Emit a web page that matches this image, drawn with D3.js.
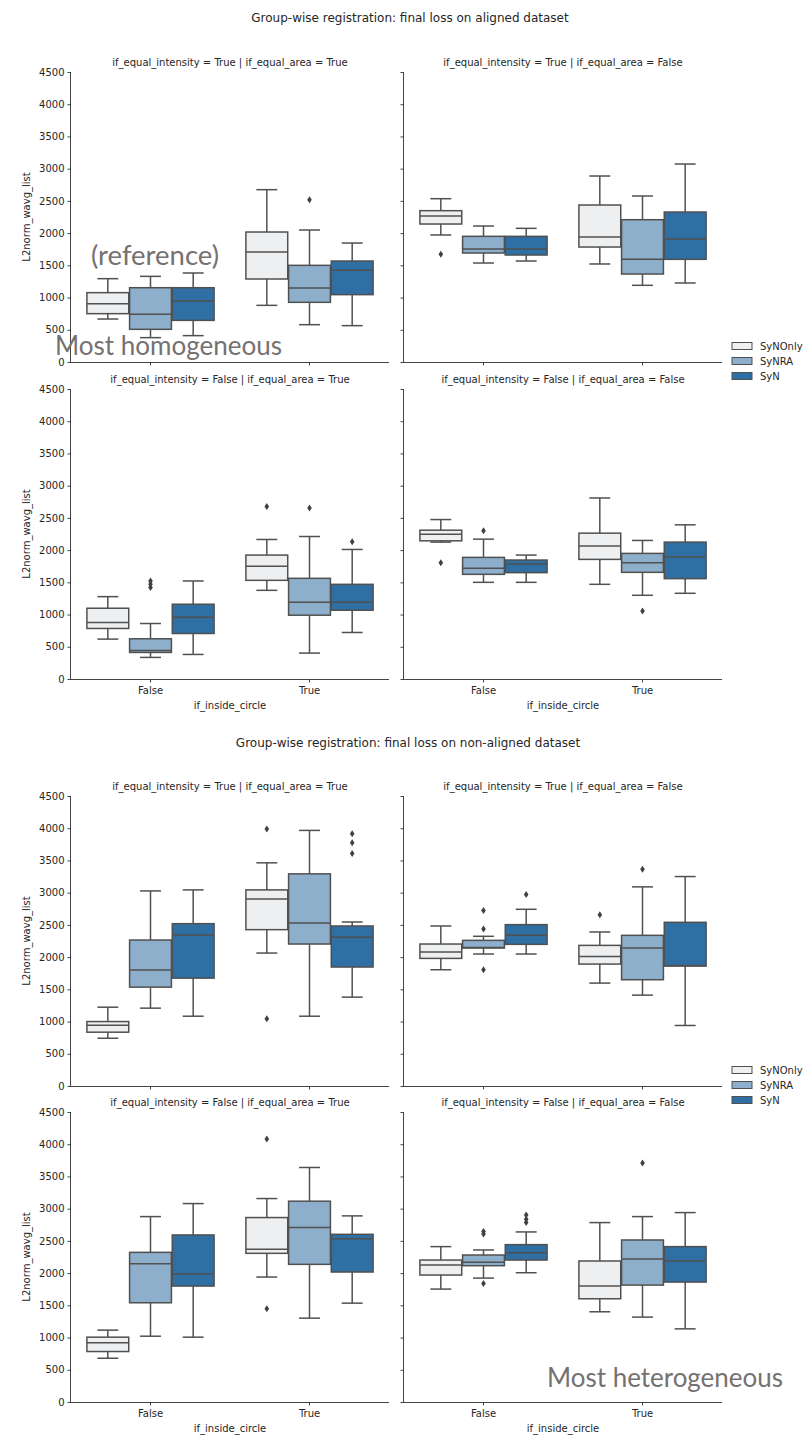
<!DOCTYPE html>
<html>
<head>
<title>Group-wise registration boxplots</title>
<script src="https://d3js.org/d3.v7.min.js" charset="utf-8"></script>
<style>
body { margin: 0; background: white; }
svg text { font-family: "DejaVu Sans", sans-serif; fill: #262626; }
.note { font-family: Lato, "Open Sans", sans-serif; fill: #767171; }
</style>
</head>
<body>
<script>
// categories
var hues = ["SyNOnly", "SyNRA", "SyN"];
var circles = ["False", "True"];
var yTicks = [0, 500, 1000, 1500, 2000, 2500, 3000, 3500, 4000, 4500];
var figTitles = ["Group-wise registration: final loss on aligned dataset",
                 "Group-wise registration: final loss on non-aligned dataset"];
var facetTitles = ["if_equal_intensity = True | if_equal_area = True",
                   "if_equal_intensity = True | if_equal_area = False",
                   "if_equal_intensity = False | if_equal_area = True",
                   "if_equal_intensity = False | if_equal_area = False"];

// box stats [whisker low, q1, median, q3, whisker high]
// order: False/SyNOnly, False/SyNRA, False/SyN, True/SyNOnly, True/SyNRA, True/SyN
var alignedTT = [[667,750,905,1076,1293],[378,507,740,1153,1329],[409,646,946,1153,1381],
                 [879,1288,1707,2017,2674],[579,926,1148,1500,2048],[564,1045,1422,1567,1846]];
var alignedTTout = [[],[],[],[],[2519],[]];
var alignedTF = [[1971,2141,2265,2348,2534],[1536,1691,1753,1950,2110],[1567,1660,1753,1950,2074],
                 [1521,1784,1940,2436,2886],[1190,1365,1593,2208,2576],[1226,1593,1908,2327,3072]];
var alignedTFout = [[1671],[],[],[],[],[]];
var alignedFT = [[619,784,876,1098,1278],[335,412,443,624,861],[381,706,959,1160,1521],
                 [1376,1531,1748,1923,2165],[402,990,1191,1562,2211],[722,1067,1191,1469,2010]];
var alignedFTout = [[],[1420,1470,1520],[],[2675],[2655],[2129]];
var alignedFF = [[2124,2144,2248,2309,2474],[1500,1624,1717,1887,2170],[1500,1650,1784,1846,1923],
                 [1469,1856,2062,2263,2809],[1299,1655,1804,1949,2150],[1330,1557,1892,2124,2392]];
var alignedFFout = [[1804],[2299],[],[],[1057],[]];

var nonalignedTT = [[741,835,943,1000,1223],[1208,1534,1799,2265,3027],[1083,1674,2343,2519,3043],
                    [2063,2426,2903,3043,3463],[1083,2203,2530,3292,3966],[1379,1846,2307,2483,2545]];
var nonalignedTTout = [[],[],[],[3987,1042],[],[3914,3774,3608]];
var nonalignedTF = [[1804,1980,2079,2203,2483],[2048,2141,2151,2260,2323],[2048,2198,2338,2504,2742],
                    [1597,1892,2011,2182,2390],[1410,1649,2141,2338,3090],[939,1861,1871,2540,3250]];
var nonalignedTFout = [[],[2722,2436,1804],[2970],[2659],[3364],[]];
var nonalignedFT = [[679,783,918,1006,1115],[1021,1540,2146,2322,2877],[1006,1799,1986,2592,3079],
                    [1939,2307,2369,2862,3157],[1301,2136,2706,3116,3639],[1534,2017,2535,2602,2888]];
var nonalignedFTout = [[],[],[],[4080,1446],[],[]];
var nonalignedFF = [[1752,1970,2125,2203,2411],[1923,2115,2167,2281,2359],[2006,2203,2317,2442,2639],
                    [1400,1602,1799,2188,2784],[1317,1814,2219,2514,2877],[1135,1861,2188,2411,2939]];
var nonalignedFFout = [[],[2644,2608,1840],[2903,2836,2784],[],[3707],[]];

var colors = ["#eeeff1", "#8eafcc", "#2f6fa3"];
var lineColor = "#505050";

var width = 807, height = 1440;
var svg = d3.select("body").append("svg")
  .attr("width", width).attr("height", height);

var panelX = [71, 404];
var panelW = 318;
var plotH = 290;
var rowTop = [72, 389, 796, 1112];

var panels = [
  {row: 0, col: 0, title: facetTitles[0], stats: alignedTT, out: alignedTTout},
  {row: 0, col: 1, title: facetTitles[1], stats: alignedTF, out: alignedTFout},
  {row: 1, col: 0, title: facetTitles[2], stats: alignedFT, out: alignedFTout},
  {row: 1, col: 1, title: facetTitles[3], stats: alignedFF, out: alignedFFout},
  {row: 2, col: 0, title: facetTitles[0], stats: nonalignedTT, out: nonalignedTTout},
  {row: 2, col: 1, title: facetTitles[1], stats: nonalignedTF, out: nonalignedTFout},
  {row: 3, col: 0, title: facetTitles[2], stats: nonalignedFT, out: nonalignedFTout},
  {row: 3, col: 1, title: facetTitles[3], stats: nonalignedFF, out: nonalignedFFout}
];

panels.forEach(function(p) {
  var x0 = panelX[p.col], y0 = rowTop[p.row];
  var g = svg.append("g").attr("transform", "translate(" + x0 + "," + y0 + ")");

  var y = d3.scaleLinear().domain([0, 4500]).range([plotH, 0]);
  var x = d3.scaleBand().domain(circles).range([0, panelW]).padding(0);
  var hx = d3.scaleBand().domain(hues)
    .range([x.bandwidth() * 0.1, x.bandwidth() * 0.9]).paddingInner(0.02);

  // axes
  var yAxis = d3.axisLeft(y).tickValues(yTicks).tickSize(3.5).tickPadding(3)
    .tickFormat(p.col == 0 ? d3.format("d") : "");
  var ga = g.append("g").call(yAxis);
  var xAxis = d3.axisBottom(x).tickSize(3.5).tickPadding(4)
    .tickFormat(p.row % 2 == 1 ? null : "");
  var gx = g.append("g").attr("transform", "translate(0," + plotH + ")").call(xAxis);
  [ga, gx].forEach(function(a) {
    a.select(".domain").attr("stroke", "#444").attr("stroke-width", 1);
    a.selectAll(".tick line").attr("stroke", "#444");
    a.selectAll("text").attr("font-size", 10).attr("fill", "#262626")
      .attr("font-family", "DejaVu Sans, sans-serif");
  });
  // only the left spine + bottom spine
  ga.select(".domain").attr("d", "M-0.5,0V" + plotH);
  gx.select(".domain").attr("d", "M0,0.5H" + panelW);

  g.append("text").attr("x", panelW / 2).attr("y", -6)
    .attr("text-anchor", "middle").attr("font-size", 10).text(p.title);

  if (p.col == 0) {
    g.append("text").attr("transform", "translate(-41," + plotH / 2 + ") rotate(-90)")
      .attr("text-anchor", "middle").attr("font-size", 10).text("L2norm_wavg_list");
  }
  if (p.row % 2 == 1) {
    g.append("text").attr("x", panelW / 2).attr("y", plotH + 30)
      .attr("text-anchor", "middle").attr("font-size", 10).text("if_inside_circle");
  }

  // boxes
  p.stats.forEach(function(s, i) {
    var cat = circles[Math.floor(i / 3)], hue = hues[i % 3];
    var bx = x(cat) + hx(hue), bw = hx.bandwidth(), cx = bx + bw / 2;
    var bg = g.append("g").attr("stroke", lineColor).attr("stroke-width", 1.5);
    bg.append("line").attr("x1", cx).attr("x2", cx).attr("y1", y(s[0])).attr("y2", y(s[1]));
    bg.append("line").attr("x1", cx).attr("x2", cx).attr("y1", y(s[3])).attr("y2", y(s[4]));
    bg.append("line").attr("x1", cx - bw / 4).attr("x2", cx + bw / 4).attr("y1", y(s[0])).attr("y2", y(s[0]));
    bg.append("line").attr("x1", cx - bw / 4).attr("x2", cx + bw / 4).attr("y1", y(s[4])).attr("y2", y(s[4]));
    bg.append("rect").attr("x", bx).attr("width", bw)
      .attr("y", y(s[3])).attr("height", y(s[1]) - y(s[3]))
      .attr("fill", colors[i % 3]);
    bg.append("line").attr("x1", bx).attr("x2", bx + bw).attr("y1", y(s[2])).attr("y2", y(s[2]));
    // fliers
    g.selectAll(null).data(p.out[i]).enter().append("path")
      .attr("d", "M0,-3.5L2.3,0L0,3.5L-2.3,0Z")
      .attr("transform", function(d) { return "translate(" + cx + "," + y(d) + ")"; })
      .attr("fill", "#404040");
  });
});

// figure titles
svg.append("text").attr("x", 410).attr("y", 22).attr("text-anchor", "middle")
  .attr("font-size", 12).text(figTitles[0]);
svg.append("text").attr("x", 408).attr("y", 747).attr("text-anchor", "middle")
  .attr("font-size", 12).text(figTitles[1]);

// legends
[353, 1077].forEach(function(ly) {
  var lg = svg.append("g").attr("transform", "translate(732," + (ly - 7) + ")");
  hues.forEach(function(h, i) {
    lg.append("rect").attr("x", 0).attr("y", i * 15 - 3.5).attr("width", 20).attr("height", 7)
      .attr("fill", colors[i]).attr("stroke", lineColor).attr("stroke-width", 1);
    lg.append("text").attr("x", 28).attr("y", i * 15 + 3.5).attr("font-size", 10).text(h);
  });
});

// annotations
svg.append("text").attr("class", "note").attr("x", 91).attr("y", 265)
  .attr("font-size", 26).attr("textLength", 128).attr("lengthAdjust", "spacingAndGlyphs")
  .text("(reference)");
svg.append("text").attr("class", "note").attr("x", 55).attr("y", 355)
  .attr("font-size", 26).attr("textLength", 227).attr("lengthAdjust", "spacingAndGlyphs")
  .text("Most homogeneous");
svg.append("text").attr("class", "note").attr("x", 547).attr("y", 1387)
  .attr("font-size", 26).attr("textLength", 236).attr("lengthAdjust", "spacingAndGlyphs")
  .text("Most heterogeneous");
</script>
</body>
</html>
